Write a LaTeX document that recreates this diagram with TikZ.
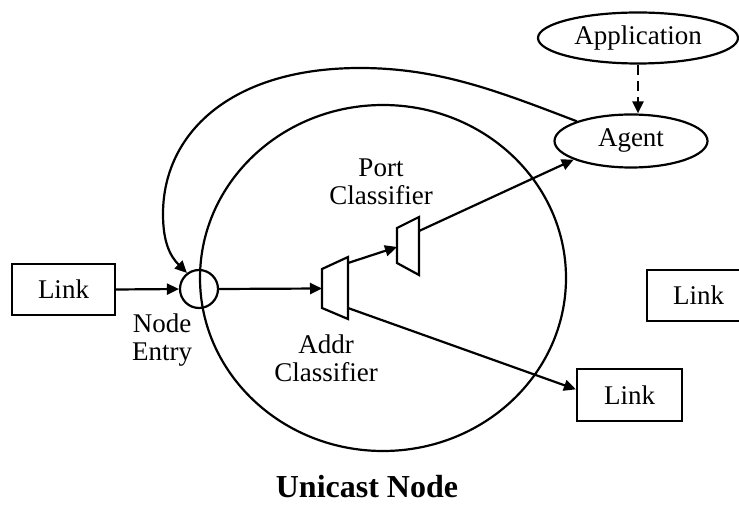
\documentclass[tikz,border=0pt]{standalone}
\usepackage{fontspec}
\setmainfont{Liberation Serif}
\usetikzlibrary{arrows.meta,positioning,shapes.geometric}
\tikzset{
  linkbox/.style={draw,line width=2.2pt,minimum width=103pt,minimum height=51pt,inner sep=0pt,font=\fontsize{27}{29}\selectfont},
  oval/.style={draw,ellipse,line width=2.2pt,inner sep=0pt,font=\fontsize{27}{29}\selectfont},
  entrynode/.style={draw,circle,line width=2.2pt,minimum size=38pt,inner sep=0pt},
  clsf/.style={draw,line width=2.2pt,line join=miter},
  lbl/.style={font=\fontsize{27}{28}\selectfont,align=center,inner sep=0pt},
  arrow/.style={-{Triangle[length=12pt,width=11pt]},line width=2.2pt},
  dasharrow/.style={arrow,dash pattern=on 10pt off 6pt},
}
\begin{document}
\begin{tikzpicture}[x=1pt,y=1pt]
    \useasboundingbox (0,0) rectangle (739,504);
    % the unicast node
    \node[draw,ellipse,line width=2.2pt,minimum width=366pt,minimum height=346pt] (unicast) at (383,226) {};
    \node[font=\fontsize{32}{34}\selectfont\bfseries] (title) at (367,17) {Unicast Node};
    % links
    \node[linkbox] (linkL) at (63.5,214.5) {Link};
    \node[linkbox] (linkR) at (698.5,208.5) {Link};
    \node[linkbox,minimum width=105pt,minimum height=52pt] (linkB) at (629.5,109) {Link};
    % agent side
    \node[oval,minimum width=200pt,minimum height=51pt] (app) at (638,466) {Application};
    \node[oval,minimum width=153pt,minimum height=53pt] (agent) at (631,363) {Agent};
    % entry and classifiers
    \node[entrynode] (entry) at (199,215) {};
    \node[lbl] (entrylbl) at (162,164) {Node\\Entry};
    \draw[clsf] (322,235) -- (348,247) -- (348,185) -- (322,196) -- cycle;
    \coordinate (addr-in) at (322,215.5);
    \coordinate (addr-up) at (348,241);
    \coordinate (addr-dn) at (348,196);
    \node[lbl] (addrlbl) at (326,146) {Addr\\Classifier};
    \draw[clsf] (397,276) -- (419,287) -- (419,229) -- (397,241) -- cycle;
    \coordinate (port-in) at (397,257);
    \coordinate (port-out) at (419,273);
    \node[lbl] (portlbl) at (381,322.5) {Port\\Classifier};
    % connectors
    \draw[arrow] (linkL.east) -- (entry.west);
    \draw[arrow] (entry.east) -- (addr-in);
    \draw[arrow] (addr-up) -- (port-in);
    \draw[arrow] (port-out) -- (agent.198);
    \draw[arrow] (addr-dn) -- (linkB.174);
    \draw[dasharrow] (app.south) -- (app.south |- agent.north);
    \draw[arrow] (agent.160) .. controls (500,412) and (440,436) .. (360,436)
      .. controls (230,436) and (163,370) .. (163,290)
      .. controls (163,262) and (170,248) .. (entry.127);
\end{tikzpicture}
\end{document}
